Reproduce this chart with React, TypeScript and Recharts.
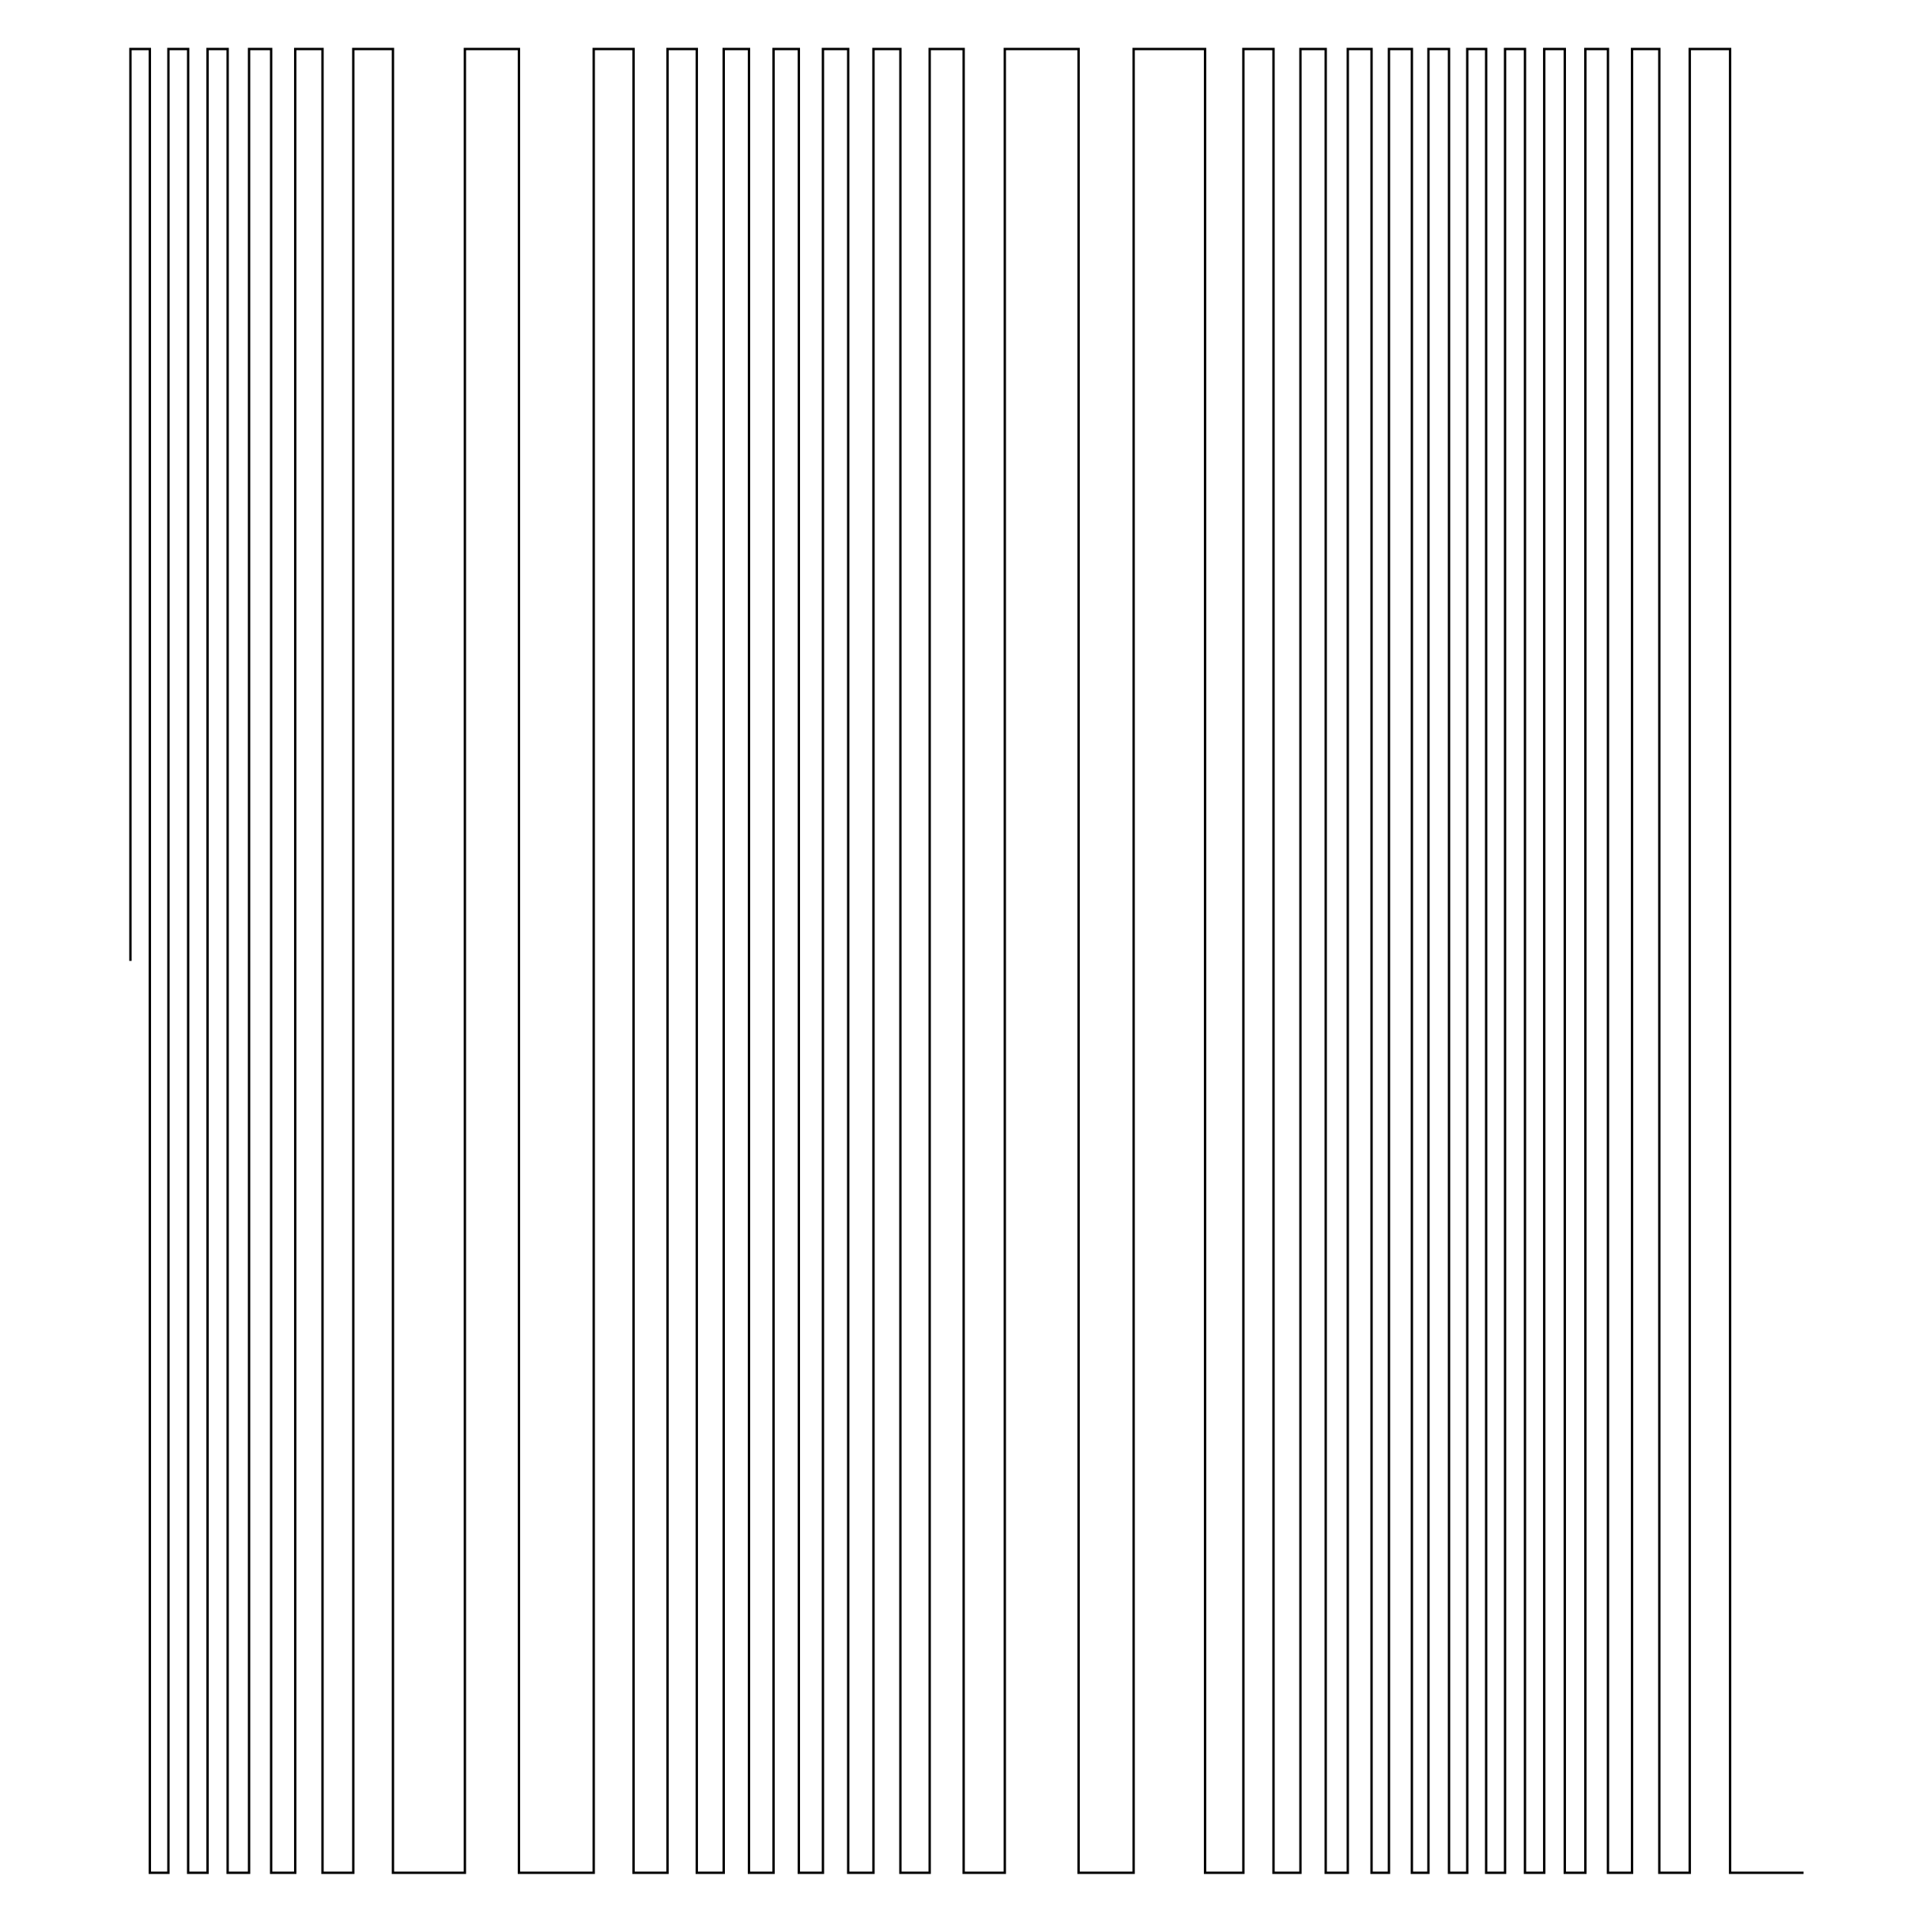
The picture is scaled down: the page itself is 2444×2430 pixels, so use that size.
import React from "react";
import { LineChart, Line, XAxis, YAxis } from "recharts";

// Positions of each step point along the horizontal axis (0–100 scale)
const positions: number[] = [
  0, 1.16, 2.27, 3.45, 4.61, 5.81, 7.09, 8.41, 9.85, 11.48,
  13.32, 15.69, 19.99, 23.22, 27.69, 30.07, 32.1, 33.85, 35.46, 36.97,
  38.44, 39.95, 41.39, 42.9, 44.41, 46.02, 47.77, 49.8, 52.26, 56.67,
  59.96, 64.23, 66.52, 68.32, 69.93, 71.44, 72.76, 74.18, 75.22, 76.59,
  77.58, 78.81, 79.9, 81.03, 82.16, 83.35, 84.5, 85.73, 86.96, 88.31,
  89.75, 91.38, 93.2, 95.61, 100,
];

// Signal level at each point (stepBefore)
const levels: number[] = [
  0.5, 1, 0, 1, 0, 1, 0, 1, 0, 1,
  0, 1, 0, 1, 0, 1, 0, 1, 0, 1,
  0, 1, 0, 1, 0, 1, 0, 1, 0, 1,
  0, 1, 0, 1, 0, 1, 0, 1, 0, 1,
  0, 1, 0, 1, 0, 1, 0, 1, 0, 1,
  0, 1, 0, 1, 0,
];

const yDomain: [number, number] = [0, 1];

const data = positions.map((x, i) => ({ x, y: levels[i] }));

export default function App() {
  return (
    <div style={{ position: "absolute", left: 0, top: 0, width: 2444, height: 2430, background: "#fff" }}>
      <LineChart
        width={2444}
        height={2430}
        data={data}
        margin={{ top: 62, right: 162.5, bottom: 61, left: 165 }}
      >
        <XAxis type="number" dataKey="x" domain={["dataMin", "dataMax"]} hide />
        <YAxis type="number" domain={yDomain} hide />
        <Line
          type="stepBefore"
          dataKey="y"
          stroke="#000"
          strokeWidth={3}
          dot={false}
          activeDot={false}
          isAnimationActive={false}
        />
      </LineChart>
    </div>
  );
}
